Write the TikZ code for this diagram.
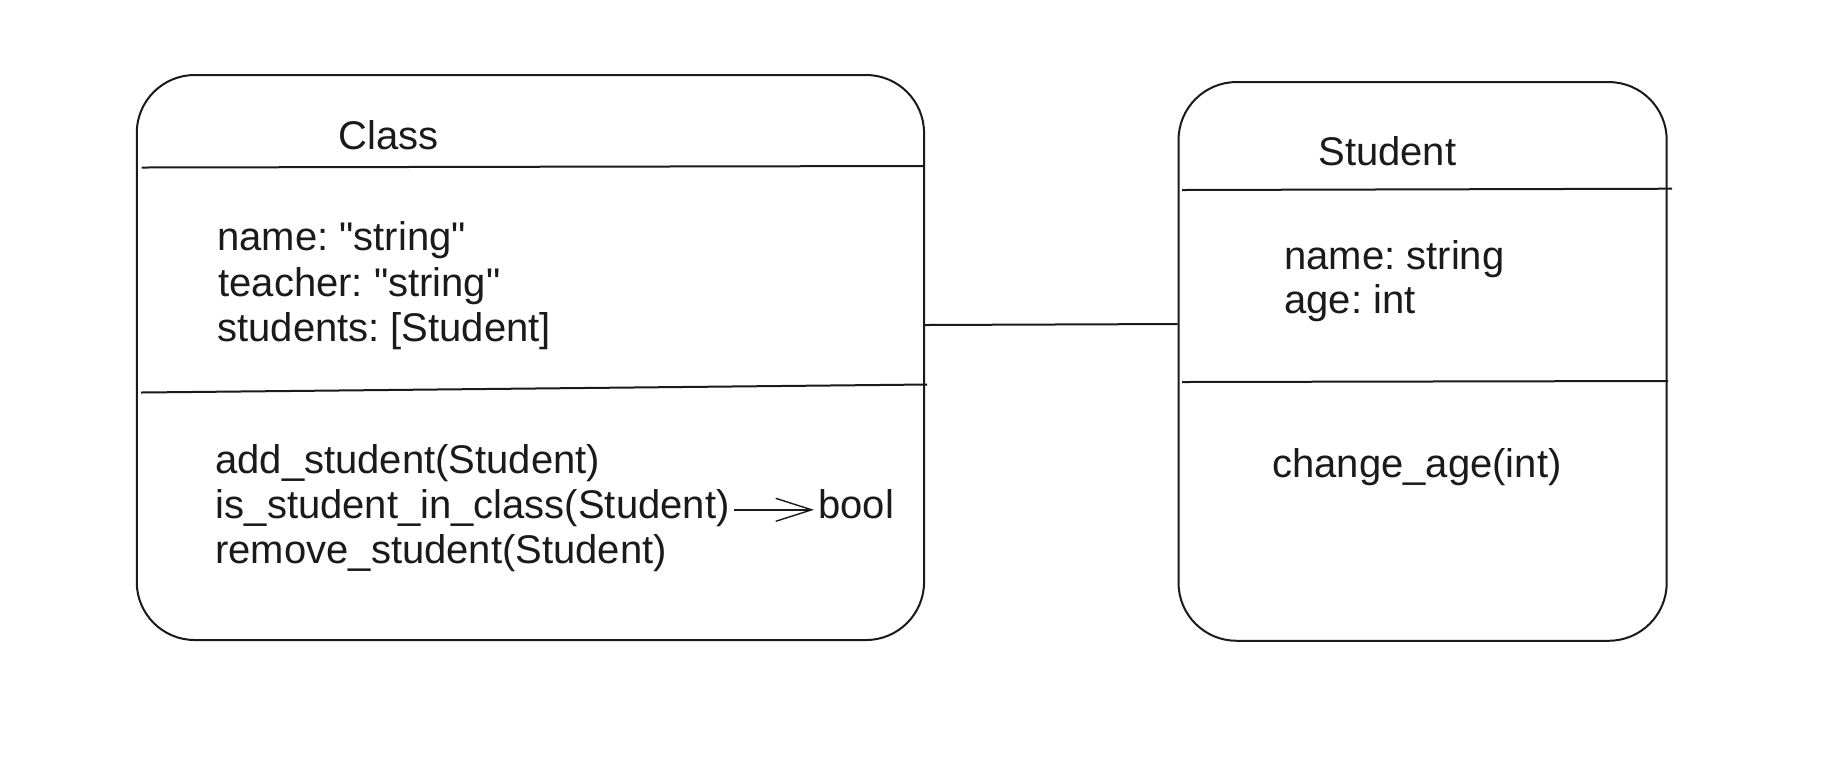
\documentclass[tikz,border=0pt]{standalone}
\usepackage{fontspec}
\setmainfont{Liberation Sans}
\usetikzlibrary{arrows.meta,calc}
\definecolor{ink}{HTML}{1A1A1A}
\frenchspacing
\begin{document}
\begin{tikzpicture}[x=0.5pt,y=-0.5pt,
  box/.style={draw=ink,line width=1pt,rounded corners=29pt,inner sep=0pt},
  sep/.style={draw=ink,line width=1pt},
  txt/.style={anchor=base west,inner sep=0pt,text=ink,font=\fontsize{20}{23}\selectfont\frenchspacing},
  arr/.style={draw=ink,line width=0.7pt,-{Straight Barb[length=18pt,width=11.5pt,line width=0.7pt]}},
]
\useasboundingbox[fill=white] (0,0) rectangle (1834,768);

% class boxes
\node[box, minimum width=393.65pt, minimum height=282.5pt] (cls) at (530.4,357.5) {};
\node[box, minimum width=244.1pt, minimum height=279.35pt] (stu) at (1422.6,361.4) {};

% compartment lines
\draw[sep] (141.7,167.5) -- (924,166);
\draw[sep] (141,392.5) -- (927,384.5);
\draw[sep] (1182,190) -- (1672,188.7);
\draw[sep] (1182,382) -- (1668,381);

% association
\draw[sep] ($(cls.east)+(0,-32.5)$) -- ($(stu.west)+(0,-37.4)$);

% Class texts
\node[txt] (ctitle) at (338.5,149.5) {Class};
\node[txt] (a1) at (217,250) {name: \textquotedbl string\textquotedbl};
\node[txt] (a2) at (218,296) {teacher: \textquotedbl string\textquotedbl};
\node[txt] (a3) at (217,341.7) {students: [Student]};
\node[txt] (m1) at (215,473.5) {add\_student(Student)};
\node[txt] (m2) at (215.5,518.5) {is\_student\_in\_class(Student)};
\node[txt] (m3) at (215,563.5) {remove\_student(Student)};
\node[txt] (bool) at (818,518.5) {bool};
\draw[arr] ($(m2.base east)+(4,-8.7)$) -- ($(bool.base west)+(-4,-8.7)$);

% Student texts
\node[txt] (stitle) at (1318,165) {Student};
\node[txt] (s1) at (1284,269) {name: string};
\node[txt] (s2) at (1284,313.5) {age: int};
\node[txt] (s3) at (1272,477) {change\_age(int)};
\end{tikzpicture}
\end{document}
